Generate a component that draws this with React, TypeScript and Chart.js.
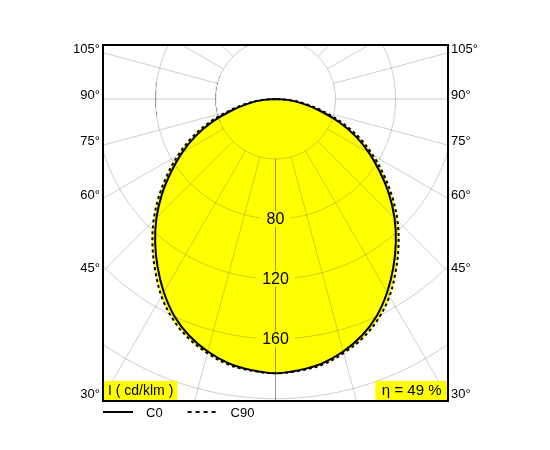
import React, { useEffect, useRef } from 'react';
import { Chart, registerables } from 'chart.js';

Chart.register(...registerables);

// ---- data (cd/klm), gamma angles measured from nadir ----
const GAMMA = [0, 5, 10, 15, 20, 25, 30, 35, 40, 45, 50, 55, 60, 65, 70, 75, 80, 85, 90];
const C0_VALUES = [183, 181.6, 179.1, 174.4, 168.1, 159.7, 148.9, 137, 124.8, 112.2, 98.8, 85, 72, 59, 45, 31, 19, 9, 0];
const C90_VALUES = [183, 182, 180, 175.5, 169.8, 162, 152, 139.8, 127.6, 115, 101.6, 88, 75, 62, 48, 34, 21.5, 10.5, 0];

const RINGS = [40, 80, 120, 160, 200, 240];
const RING_LABELS = [80, 120, 160];
const SPOKE_ANGLES = [0, 15, 30, 45, 60, 75, 90, 105, 120, 135, 150, 165, 180, 195, 210, 225, 240, 255, 270, 285, 300, 315, 330, 345];
const ANGLE_LABELS = [30, 45, 60, 75, 90, 105];
const UNIT_LABEL = 'I ( cd/klm )';
const EFFICIENCY_LABEL = 'η = 49 %';
const SERIES_NAMES = ['C0', 'C90'];

// ---- styles ----
const FONT = '"Liberation Sans", Arial, Helvetica, sans-serif';
const FILL = '#ffff00';
const GRID = 'rgba(95,95,95,0.3)';
const X_HALF = 115;
const Y_MIN = -201.5;
const Y_MAX = 36;
const SPOKE_START = 40;
const SPOKE_END = 260;
const LABEL_SHIFT = 2.2;

const rad = (d: number) => (d * Math.PI) / 180;
const toXY = (g: number, r: number) => ({ x: r * Math.sin(rad(g)), y: -r * Math.cos(rad(g)) });

function curve(values: number[]) {
  const pts: { x: number; y: number }[] = [];
  for (let i = GAMMA.length - 1; i >= 0; i--) pts.push(toXY(-GAMMA[i], values[i]));
  for (let i = 1; i < GAMMA.length; i++) pts.push(toXY(GAMMA[i], values[i]));
  return pts;
}

function ringPoints() {
  const pts: { x: number; y: number | null }[] = [];
  RINGS.forEach((r) => {
    for (let a = 0; a <= 360; a += 2) pts.push(toXY(a, r));
    pts.push({ x: 0, y: null });
  });
  return pts;
}

function spokePoints() {
  const pts: { x: number; y: number | null }[] = [];
  SPOKE_ANGLES.forEach((a) => {
    pts.push(toXY(a, SPOKE_START));
    pts.push(toXY(a, SPOKE_END));
    pts.push({ x: 0, y: null });
  });
  return pts;
}

const angleTickValue = (a: number) => (-X_HALF * Math.cos(rad(a))) / Math.sin(rad(a)) + LABEL_SHIFT;

const overlay = {
  id: 'overlay',
  afterDatasetsDraw(chart: any) {
    const { ctx, chartArea: a, scales } = chart;
    const xs = scales.x;
    const ys = scales.y;
    ctx.save();
    // ring value labels
    ctx.font = `16px ${FONT}`;
    ctx.textAlign = 'center';
    ctx.textBaseline = 'middle';
    RING_LABELS.forEach((v) => {
      const px = xs.getPixelForValue(0);
      const py = ys.getPixelForValue(-v);
      const t = String(v);
      const w = ctx.measureText(t).width + 12;
      ctx.fillStyle = FILL;
      ctx.fillRect(px - w / 2, py - 8, w, 16);
      ctx.fillStyle = '#000';
      ctx.fillText(t, px, py + 1);
    });
    // corner boxes
    ctx.font = `14px ${FONT}`;
    ctx.textBaseline = 'middle';
    const bh = 20;
    const w1 = ctx.measureText(UNIT_LABEL).width + 9;
    ctx.fillStyle = FILL;
    ctx.fillRect(a.left, a.bottom - bh, w1, bh);
    ctx.fillStyle = '#000';
    ctx.textAlign = 'left';
    ctx.fillText(UNIT_LABEL, a.left + 5, a.bottom - bh / 2);
    ctx.font = `15px ${FONT}`;
    const w2 = ctx.measureText(EFFICIENCY_LABEL).width + 13;
    ctx.fillStyle = FILL;
    ctx.fillRect(a.right - w2, a.bottom - bh, w2, bh);
    ctx.fillStyle = '#000';
    ctx.textAlign = 'center';
    ctx.fillText(EFFICIENCY_LABEL, a.right - w2 / 2, a.bottom - bh / 2);
    // frame
    ctx.strokeStyle = '#000';
    ctx.lineWidth = 2;
    ctx.strokeRect(a.left, a.top, a.right - a.left, a.bottom - a.top);
    ctx.restore();
  },
  afterDraw(chart: any) {
    const { ctx, chartArea: a } = chart;
    const outlines = SERIES_NAMES.map((n) => chart.data.datasets.find((d: any) => d.isOutline && d.label === n));
    ctx.save();
    ctx.font = `13px ${FONT}`;
    ctx.textAlign = 'left';
    ctx.textBaseline = 'middle';
    let x = a.left;
    const y = a.bottom + 11;
    outlines.forEach((d: any) => {
      ctx.strokeStyle = d.borderColor;
      ctx.lineWidth = 2;
      ctx.setLineDash(d.borderDash ? [4, 4] : []);
      ctx.beginPath();
      ctx.moveTo(x, y);
      ctx.lineTo(x + 30, y);
      ctx.stroke();
      ctx.setLineDash([]);
      ctx.fillStyle = '#000';
      ctx.fillText(d.label, x + 43, y + 1);
      x = x + 43 + ctx.measureText(d.label).width + 25;
    });
    ctx.restore();
  },
};

export default function App() {
  const ref = useRef<HTMLCanvasElement>(null);

  useEffect(() => {
    if (!ref.current) return;
    Chart.defaults.font.family = FONT;
    const c0 = curve(C0_VALUES);
    const c90 = curve(C90_VALUES);
    const base = { pointRadius: 0, pointHoverRadius: 0, showLine: true, tension: 0, spanGaps: false };
    const smooth = { ...base, tension: 0.35 };
    const yAxis = (position: 'left' | 'right', width: number) => ({
      type: 'linear' as const,
      position,
      min: Y_MIN,
      max: Y_MAX,
      grid: { display: false, drawTicks: false },
      border: { display: false },
      ticks: {
        autoSkip: false,
        padding: 3,
        color: '#000',
        font: { size: 13, family: FONT },
        callback: (_v: any, i: number) => `${ANGLE_LABELS[i]}°`,
      },
      afterBuildTicks: (scale: any) => {
        scale.ticks = ANGLE_LABELS.map((ang) => ({ value: angleTickValue(ang) }));
      },
      afterFit: (scale: any) => {
        scale.width = width;
      },
    });
    const chart = new Chart(ref.current, {
      type: 'scatter',
      data: {
        datasets: [
          { ...smooth, label: 'C90 fill', data: c90, fill: 'shape', backgroundColor: FILL, borderWidth: 0, order: 6 },
          { ...smooth, label: 'C0 fill', data: c0, fill: 'shape', backgroundColor: FILL, borderWidth: 0, order: 5 },
          { ...base, label: 'rings', data: ringPoints(), fill: false, borderColor: GRID, borderWidth: 1, order: 4 },
          { ...base, label: 'spokes', data: spokePoints(), fill: false, borderColor: GRID, borderWidth: 1, order: 3 },
          { ...smooth, label: SERIES_NAMES[1], isOutline: true, data: c90, fill: false, borderColor: '#000', borderWidth: 2, borderDash: [3, 3], order: 2 },
          { ...smooth, label: SERIES_NAMES[0], isOutline: true, data: c0, fill: false, borderColor: '#000', borderWidth: 2, order: 1 },
        ] as any,
      },
      options: {
        responsive: false,
        animation: false,
        events: [],
        layout: { padding: { left: 0, right: 0, top: 45, bottom: 49 } },
        plugins: { legend: { display: false }, tooltip: { enabled: false } },
        scales: {
          x: { type: 'linear', min: -X_HALF, max: X_HALF, display: false },
          y: yAxis('left', 103) as any,
          y2: yAxis('right', 102) as any,
        },
      },
      plugins: [overlay],
    });
    return () => chart.destroy();
  }, []);

  return (
    <div style={{ position: 'absolute', left: 0, top: 0, width: 550, height: 450, background: '#fff' }}>
      <canvas ref={ref} width={550} height={450} style={{ display: 'block' }} />
    </div>
  );
}
